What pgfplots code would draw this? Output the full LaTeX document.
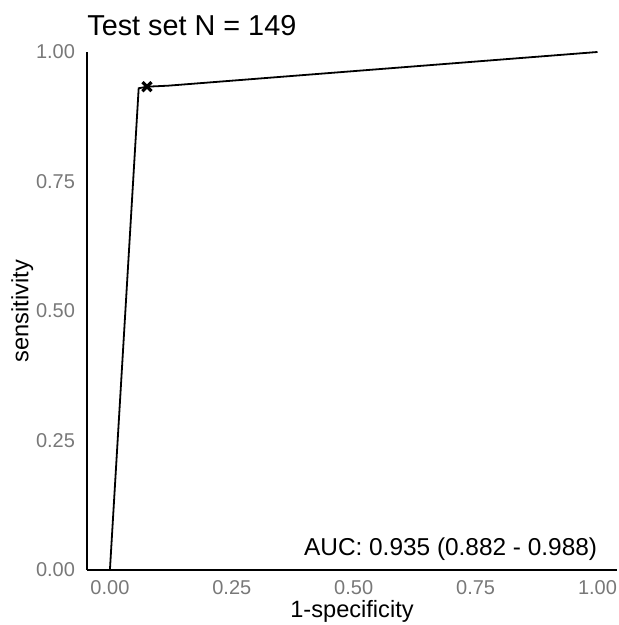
\documentclass[border=0pt]{standalone}
\usepackage{pgfplots}
\pgfplotsset{compat=1.18}
\usepackage{fontspec}
\setmainfont{Liberation Sans}
\definecolor{tickgray}{RGB}{120,120,120}

\begin{document}
\begin{tikzpicture}
\useasboundingbox (-43.5pt,-27.5pt) rectangle (266pt,285pt);
\begin{axis}[
    at={(0,0)}, anchor=south west,
    scale only axis,
    width=265pt, height=259pt,
    xmin=-0.047, xmax=1.04,
    ymin=0, ymax=1,
    axis x line=bottom, axis y line=left,
    axis line style={line width=1.1pt, -},
    xtick={0,0.25,0.5,0.75,1}, ytick={0,0.25,0.5,0.75,1},
    major tick length=0pt,
    /pgf/number format/assume math mode=true,
    /pgf/number format/.cd, fixed, fixed zerofill, precision=2, /pgfplots/.cd,
    ticklabel style={font=\fontsize{10}{11}\selectfont, text=tickgray},
    xticklabel style={yshift=-1.5pt},
    yticklabel style={xshift=-2.5pt},
    xlabel={1-specificity}, ylabel={sensitivity},
    label style={font=\fontsize{11.8}{13}\selectfont},
    xlabel style={yshift=4pt},
    ylabel style={yshift=-5.5pt},
    clip=false,
]
\addplot[black, line width=0.9pt] coordinates {
    (0,0) (0.059,0.93) (0.076,0.933) (0.12,0.935) (1,1)
};
\addplot[black, only marks, mark=x, mark size=3.2pt, mark options={line width=1.6pt}] coordinates {(0.076,0.933)};
\node[anchor=east, font=\fontsize{12.2}{14}\selectfont, inner sep=0pt] at (axis cs:1,0.04) {AUC: 0.935 (0.882 - 0.988)};
\node[anchor=south west, font=\fontsize{14.4}{16}\selectfont, inner sep=0pt] at (rel axis cs:0,1) [yshift=8pt] {Test set N = 149};
\end{axis}
\end{tikzpicture}
\end{document}
